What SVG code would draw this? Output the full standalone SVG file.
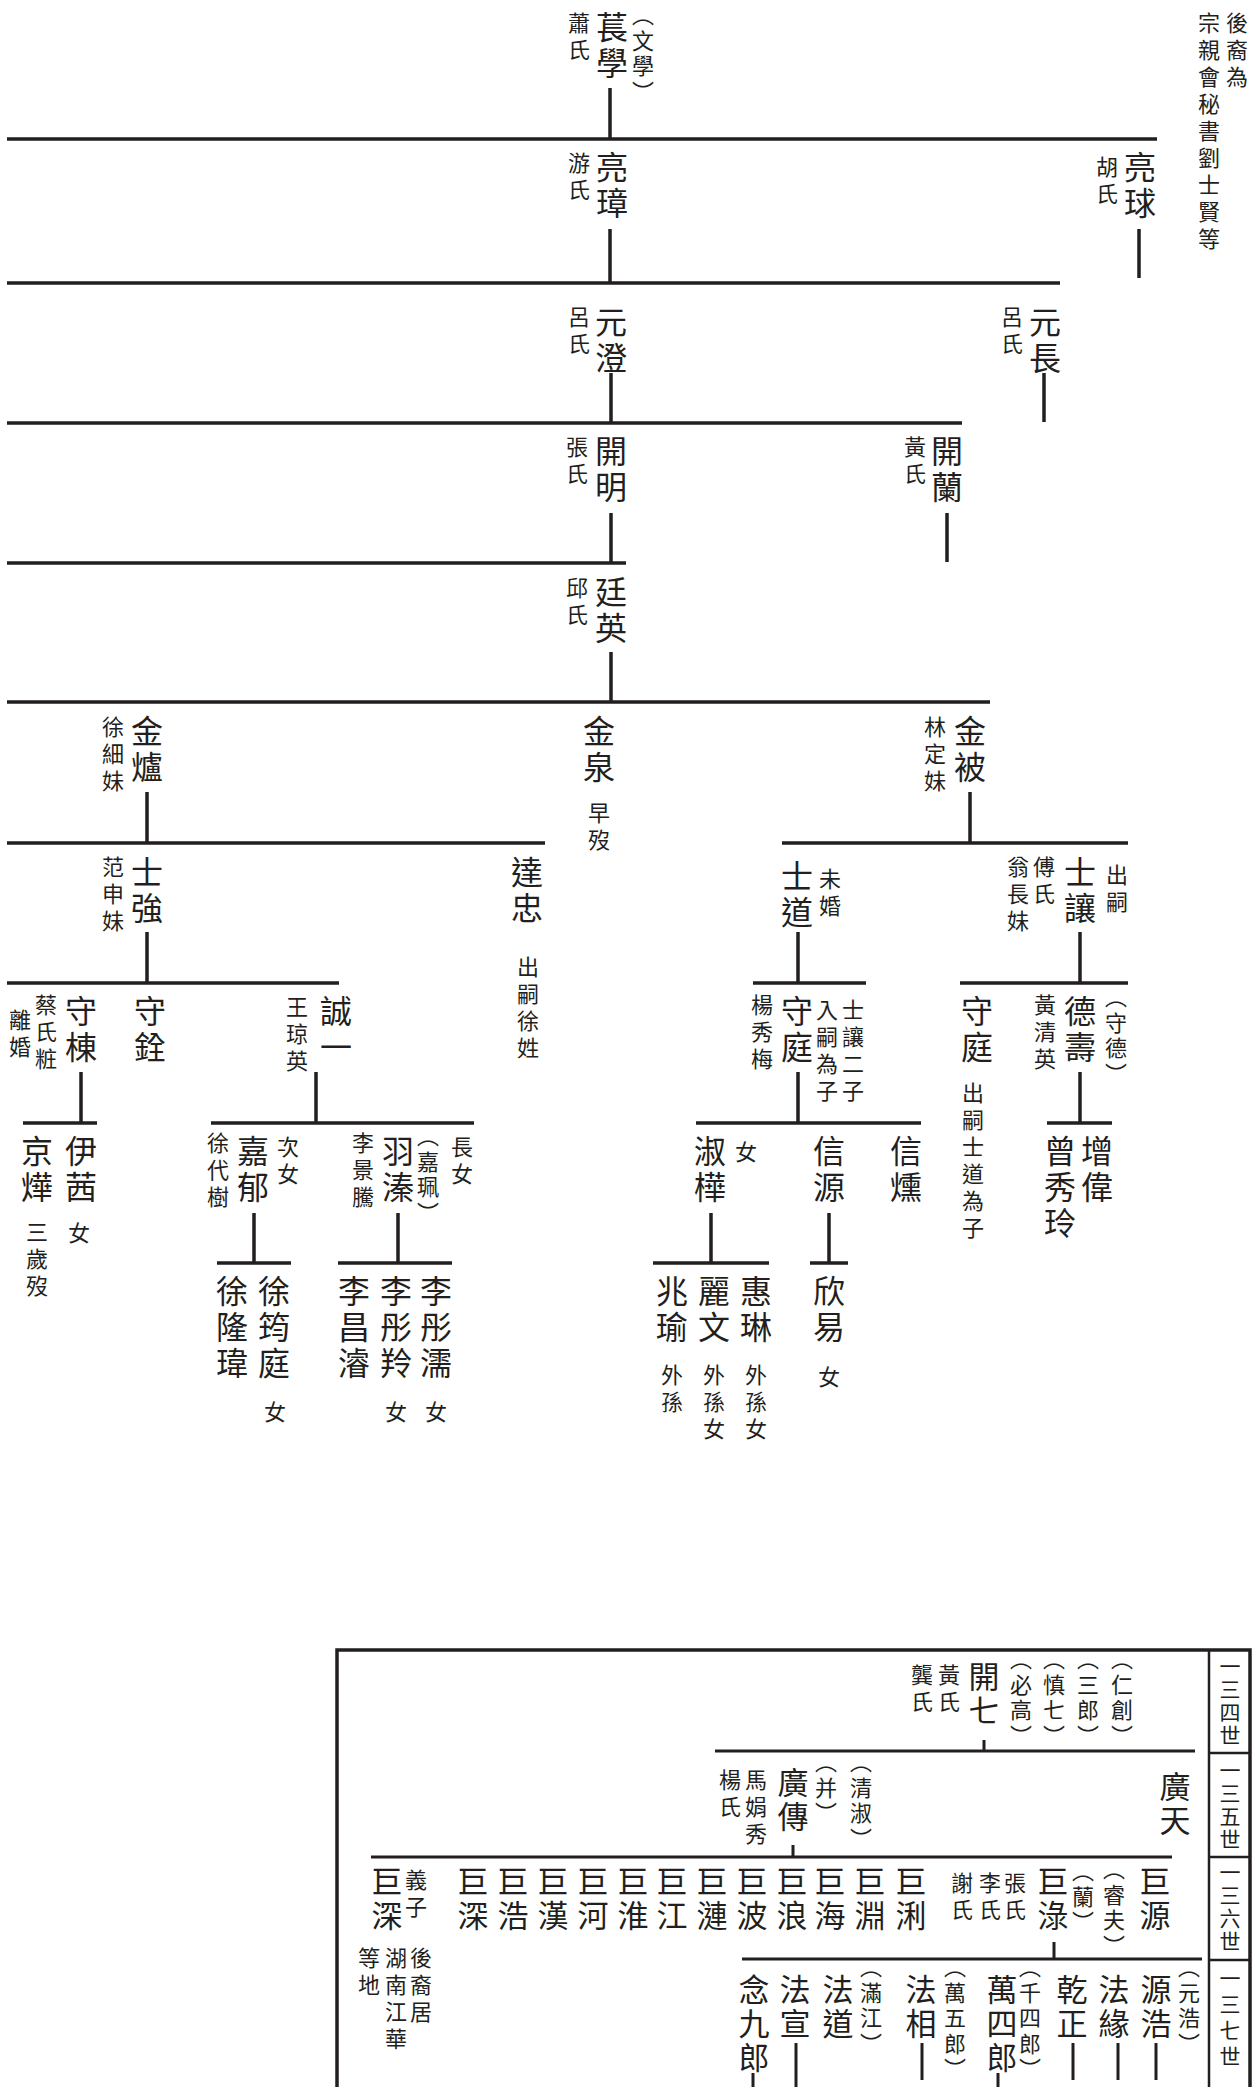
<svg xmlns="http://www.w3.org/2000/svg" width="1253" height="2087" viewBox="0 0 1253 2087">
<style>
text{font-family:"Noto Sans CJK TC","Noto Sans CJK SC",sans-serif;fill:#231f20;writing-mode:vertical-rl;}
.b{font-size:32px;letter-spacing:4px;}
.b2{font-size:31px;letter-spacing:3px;}
.s{font-size:22px;letter-spacing:5px;}
.p{font-size:22px;letter-spacing:3.5px;}
.g{font-size:21px;letter-spacing:2px;}
.ln{stroke:#231f20;stroke-width:3.5;fill:none;}
.ln2{stroke:#231f20;stroke-width:3;fill:none;}
.fr{stroke:#231f20;stroke-width:3.5;fill:none;}
.fr2{stroke:#231f20;stroke-width:2.5;fill:none;}
</style>
<rect width="1253" height="2087" fill="#fff"/>
<g id="connectors">
<path class="ln" d="M7 139H1157M7 283H1060M7 423H962M7 563H626M7 702H990M7 843H545M782 843H1128M7 983H339M753 983H866M960 983H1128M23 1123H97M211 1123H474M696 1123H921M1047 1123H1112M217 1263H291M338 1263H452M653 1263H769M810 1263H848"/>
<path class="ln" d="M610 88V139M610 229V283M1139 229V278M611 373V423M1044 373V422M611 513V563M947 513V562M611 652V702M147 792V843M970 792V843M147 932V983M798 932V983M1080 932V983M81 1072V1123M316 1072V1123M798 1072V1123M1080 1072V1123M254 1213V1263M398 1213V1263M711 1213V1263M829 1213V1263"/>
<path class="ln2" d="M984 1740V1751M715 1751H1195M793 1845V1857M371 1857H1172M1054 1942V1959M742 1959H1202M796 2043V2087M922 2043V2080M1073 2043V2080M1118 2043V2080M1156 2043V2080M753 2073V2087M998 2073V2087"/>
</g>
<g id="frame">
<path class="fr" d="M337 2087V1650H1250V2087"/>
<path class="fr2" d="M1209 1650V2087M1209 1753H1250M1209 1857H1250M1209 1960H1250"/>
<text class="g" x="1230" y="1656">一三四世</text>
<text class="g" x="1230" y="1760">一三五世</text>
<text class="g" x="1230" y="1862">一三六世</text>
<text class="g" x="1230" y="1968" style="letter-spacing:5px">一三七世</text>
</g>
<g id="note-top"><text class="s" x="1237" y="12">後裔為</text><text class="s" x="1209" y="12">宗親會秘書劉士賢等</text></g>
<g id="n1"><text class="s" x="579" y="12">蕭氏</text><text class="b" x="612" y="11">萇學</text><text class="p" x="643" y="4">（文學）</text></g>
<g id="n2"><text class="s" x="579" y="152">游氏</text><text class="b" x="612" y="151">亮璋</text></g>
<g id="n3"><text class="s" x="1107" y="156">胡氏</text><text class="b" x="1140" y="151">亮球</text></g>
<g id="n4"><text class="s" x="579" y="306">呂氏</text><text class="b" x="611" y="306">元澄</text></g>
<g id="n5"><text class="s" x="1012" y="306">呂氏</text><text class="b" x="1045" y="306">元長</text></g>
<g id="n6"><text class="s" x="577" y="436">張氏</text><text class="b" x="611" y="435">開明</text></g>
<g id="n7"><text class="s" x="915" y="436">黃氏</text><text class="b" x="947" y="435">開蘭</text></g>
<g id="n8"><text class="s" x="577" y="577">邱氏</text><text class="b" x="611" y="576">廷英</text></g>
<g id="n9"><text class="s" x="113" y="716">徐細妹</text><text class="b" x="147" y="715">金爐</text></g>
<g id="n10"><text class="b" x="599" y="715">金泉</text><text class="s" x="599" y="802">早歿</text></g>
<g id="n11"><text class="s" x="935" y="716">林定妹</text><text class="b" x="970" y="715">金被</text></g>
<g id="n12"><text class="s" x="113" y="856">范申妹</text><text class="b" x="147" y="856">士強</text></g>
<g id="n13"><text class="b" x="527" y="856">達忠</text><text class="s" x="528" y="956">出嗣徐姓</text></g>
<g id="n14"><text class="b" x="797" y="860">士道</text><text class="s" x="830" y="868">未婚</text></g>
<g id="n15"><text class="s" x="1018" y="856">翁長妹</text><text class="s" x="1044" y="856">傅氏</text><text class="b" x="1080" y="856">士讓</text><text class="s" x="1117" y="864">出嗣</text></g>
<g id="n16"><text class="s" x="20" y="1009">離婚</text><text class="s" x="46" y="994">蔡氏粧</text><text class="b" x="81" y="995">守棟</text></g>
<g id="n17"><text class="b" x="150" y="995">守銓</text></g>
<g id="n18"><text class="s" x="297" y="996">王琼英</text><text class="b" x="336" y="995">誠一</text></g>
<g id="n19"><text class="s" x="762" y="994">楊秀梅</text><text class="b" x="797" y="995">守庭</text><text class="s" x="827" y="999">入嗣為子</text><text class="s" x="853" y="999">士讓二子</text></g>
<g id="n20"><text class="b" x="977" y="995">守庭</text><text class="s" x="973" y="1082">出嗣士道為子</text></g>
<g id="n21"><text class="s" x="1045" y="994">黃清英</text><text class="b" x="1080" y="995">德壽</text><text class="p" x="1116" y="986">（守德）</text></g>
<g id="n22"><text class="b" x="37" y="1135">京燁</text><text class="s" x="37" y="1221">三歲歿</text></g>
<g id="n23"><text class="b" x="81" y="1135">伊茜</text><text class="s" x="79" y="1222">女</text></g>
<g id="n24"><text class="s" x="218" y="1132">徐代樹</text><text class="b" x="253" y="1135">嘉郁</text><text class="s" x="288" y="1136">次女</text></g>
<g id="n25"><text class="s" x="363" y="1132">李景騰</text><text class="b" x="398" y="1135">羽溱</text><text class="p" x="428" y="1125">（嘉珮）</text><text class="s" x="462" y="1136">長女</text></g>
<g id="n26"><text class="b" x="710" y="1135">淑樺</text><text class="s" x="746" y="1141">女</text></g>
<g id="n27"><text class="b" x="829" y="1135">信源</text></g>
<g id="n28"><text class="b" x="906" y="1135">信燻</text></g>
<g id="n29"><text class="b" x="1060" y="1135">曾秀玲</text></g>
<g id="n30"><text class="b" x="1097" y="1135">增偉</text></g>
<g id="n31"><text class="b" x="232" y="1275">徐隆瑋</text></g>
<g id="n32"><text class="b" x="274" y="1275">徐筠庭</text><text class="s" x="275" y="1401">女</text></g>
<g id="n33"><text class="b" x="354" y="1275">李昌濬</text></g>
<g id="n34"><text class="b" x="396" y="1275">李彤羚</text><text class="s" x="396" y="1401">女</text></g>
<g id="n35"><text class="b" x="436" y="1275">李彤濡</text><text class="s" x="436" y="1401">女</text></g>
<g id="n36"><text class="b" x="672" y="1275">兆瑜</text><text class="s" x="672" y="1364">外孫</text></g>
<g id="n37"><text class="b" x="714" y="1275">麗文</text><text class="s" x="714" y="1364">外孫女</text></g>
<g id="n38"><text class="b" x="756" y="1275">惠琳</text><text class="s" x="756" y="1364">外孫女</text></g>
<g id="n39"><text class="b" x="829" y="1275">欣易</text><text class="s" x="829" y="1366">女</text></g>
<g id="b1"><text class="s" x="922" y="1664">龔氏</text><text class="s" x="949" y="1664">黃氏</text><text class="b2" x="984" y="1661">開七</text><text class="p" x="1021" y="1648">（必高）</text><text class="p" x="1054" y="1648">（慎七）</text><text class="p" x="1088" y="1648">（三郎）</text><text class="p" x="1122" y="1648">（仁創）</text></g>
<g id="b2"><text class="s" x="730" y="1769">楊氏</text><text class="s" x="756" y="1769">馬娟秀</text><text class="b2" x="793" y="1767">廣傳</text><text class="p" x="826" y="1751">（并）</text><text class="p" x="861" y="1751">（清淑）</text></g>
<g id="b3"><text class="b2" x="1175" y="1771">廣天</text></g>
<g id="b4"><text class="b2" x="387" y="1866">巨深</text><text class="s" x="416" y="1869">義子</text><text class="s" x="421" y="1947">後裔居</text><text class="s" x="396" y="1947">湖南江華</text><text class="s" x="369" y="1947">等地</text></g>
<g id="b5"><text class="b2" x="473" y="1866">巨深</text></g>
<g id="b6"><text class="b2" x="513" y="1866">巨浩</text></g>
<g id="b7"><text class="b2" x="553" y="1866">巨漢</text></g>
<g id="b8"><text class="b2" x="593" y="1866">巨河</text></g>
<g id="b9"><text class="b2" x="633" y="1866">巨淮</text></g>
<g id="b10"><text class="b2" x="672" y="1866">巨江</text></g>
<g id="b11"><text class="b2" x="712" y="1866">巨漣</text></g>
<g id="b12"><text class="b2" x="752" y="1866">巨波</text></g>
<g id="b13"><text class="b2" x="792" y="1866">巨浪</text></g>
<g id="b14"><text class="b2" x="830" y="1866">巨海</text></g>
<g id="b15"><text class="b2" x="870" y="1866">巨淵</text></g>
<g id="b16"><text class="b2" x="911" y="1866">巨浰</text></g>
<g id="b17"><text class="s" x="962" y="1872">謝氏</text><text class="s" x="990" y="1872">李氏</text><text class="s" x="1015" y="1872">張氏</text><text class="b2" x="1053" y="1866">巨淥</text><text class="p" x="1083" y="1860">（蘭）</text><text class="p" x="1114" y="1858">（睿夫）</text></g>
<g id="b18"><text class="b2" x="1155" y="1866">巨源</text></g>
<g id="b19"><text class="b2" x="754" y="1974">念九郎</text></g>
<g id="b20"><text class="b2" x="795" y="1974">法宣</text></g>
<g id="b21"><text class="b2" x="838" y="1974">法道</text><text class="p" x="871" y="1956">（滿江）</text></g>
<g id="b22"><text class="b2" x="921" y="1974">法相</text><text class="p" x="955" y="1956">（萬五郎）</text></g>
<g id="b23"><text class="b2" x="1002" y="1974">萬四郎</text><text class="p" x="1030" y="1956">（千四郎）</text></g>
<g id="b24"><text class="b2" x="1072" y="1974">乾正</text></g>
<g id="b25"><text class="b2" x="1114" y="1974">法緣</text></g>
<g id="b26"><text class="b2" x="1156" y="1974">源浩</text><text class="p" x="1189" y="1956">（元浩）</text></g>
</svg>
